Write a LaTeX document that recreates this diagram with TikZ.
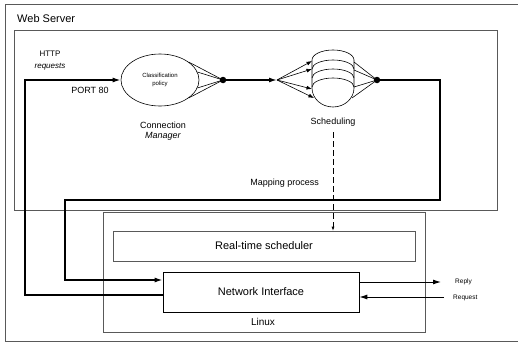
\documentclass[tikz,border=0pt]{standalone}
\usepackage{fontspec}
\setmainfont{Liberation Sans}
\usetikzlibrary{arrows.meta,shapes.geometric}
\begin{document}
\begin{tikzpicture}[x=1pt,y=-1pt,
  frame/.style={draw=black!65,line width=0.6pt},
  flow/.style={draw=black,line width=1.5pt},
  tip/.style={-{Latex[length=8pt,width=5pt]}},
  thin/.style={draw=black,line width=0.6pt},
  dot/.style={circle,fill=black,inner sep=0pt,minimum size=6.5pt},
  lbl/.style={inner sep=0pt,font=\fontsize{9}{10}\selectfont},
  small/.style={inner sep=0pt,font=\fontsize{6.5}{7.5}\selectfont},
  boxtext/.style={font=\fontsize{11}{12}\selectfont}]
\useasboundingbox (0,0) rectangle (518,345);
% outer frame (open at right)
\draw[frame] (518,4) -- (5,4) -- (5,341) -- (518,341);
\node[lbl,anchor=west,font=\fontsize{11}{12}\selectfont] (ws) at (17,19) {Web Server};
% web server box
\draw[frame] (14,30) rectangle (497,210);
% linux box
\draw[frame] (103,212) rectangle (425,332);
\node[lbl,font=\fontsize{10}{11}\selectfont] (linux) at (263,322) {Linux};
% real-time scheduler
\node[frame,minimum width=302,minimum height=30,boxtext] (rts) at (264,246) {Real-time scheduler};
% network interface
\node[thin,minimum width=196,minimum height=40,boxtext] (ni) at (261,292) {Network Interface};
% classification ellipse
\node[ellipse,thin,minimum width=78,minimum height=52,inner sep=0pt,align=center,
  font=\fontsize{6}{7.5}\selectfont] (cls) at (160,80) {Classification\\policy};
\node[lbl,align=center] (cm) at (163,131) {Connection\\\textit{Manager}};
\node[dot] (d1) at (223,80) {};
\foreach \a in {32,12,-12,-32} \draw[thin] (cls.\a) -- (d1.center);
% HTTP labels
\node[lbl,align=center,font=\fontsize{8}{12}\selectfont] (http) at (50,61) {HTTP\\\textit{requests}};
\node[lbl] (port) at (90,90) {PORT 80};
% left input path
\draw[flow,tip] ([yshift=-3pt]ni.west) -| (25,80) -- (cls.west);
% split
\coordinate (s) at (277,80);
\draw[flow,tip] (d1.center) -- (s);
% cylinder stack (y axis points down: angles 180->360 bulge upward)
\draw[thin] (312,60) arc[start angle=180,end angle=360,x radius=21,y radius=10];
\draw[thin] (312,69) arc[start angle=180,end angle=360,x radius=21,y radius=9];
\draw[thin] (312,78) arc[start angle=180,end angle=360,x radius=21,y radius=9];
\draw[thin] (312,87) arc[start angle=180,end angle=360,x radius=21,y radius=9];
\draw[thin] (312,60) -- (312,88) arc[start angle=180,end angle=0,x radius=21,y radius=19] -- (354,60);
\coordinate (i1) at (312,61);
\coordinate (i2) at (312,69);
\coordinate (i3) at (312,89);
\coordinate (i4) at (314,98);
\foreach \p in {i1,i2,i3,i4} \draw[thin,-{Latex[length=5.5pt,width=4pt]}] (s) -- (\p);
\node[dot] (d2) at (377,80) {};
\coordinate (o1) at (354,62);
\coordinate (o2) at (354,70);
\coordinate (o3) at (354,87);
\coordinate (o4) at (352,98);
\foreach \p in {o1,o2,o3,o4} \draw[thin] (\p) -- (d2.center);
\node[lbl] (sched) at (333,122) {Scheduling};
% return path
\draw[flow,tip] (d2.center) -- (440,80) -- (440,200) -- (65,200) -- (65,280) -- (ni.west |- 0,280);
% mapping
\node[lbl,anchor=east] (map) at (319,183) {Mapping process};
\draw[thin,dashed,dash pattern=on 6pt off 3pt,-{Latex[length=4pt,width=3pt]}] ([yshift=-6pt]sched.south) -- (rts.north -| sched.south);
% reply / request
\coordinate (rep) at (441,282);
\coordinate (req) at (444,297);
\draw[thin,line width=1pt,tip] (ni.east |- rep) -- (rep);
\draw[thin,line width=1pt,tip] (req) -- (ni.east |- req);
\node[small,anchor=west] (replyt) at (455,282) {Reply};
\node[small,anchor=west] (reqt) at (453,298) {Request};
\end{tikzpicture}
\end{document}
